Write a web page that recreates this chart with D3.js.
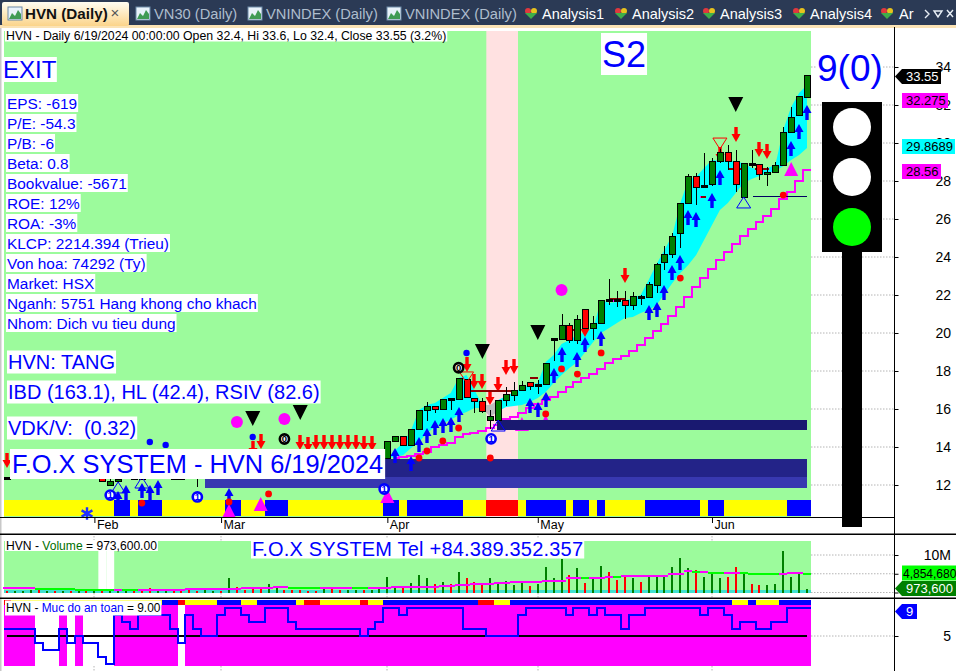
<!DOCTYPE html>
<html>
<head>
<meta charset="utf-8">
<script src="https://cdn.jsdelivr.net/npm/d3@7"></script>
<style>
html, body { margin: 0; padding: 0; background: #fff; }
svg { display: block; font-family: "Liberation Sans", Arial, sans-serif; }
text { white-space: pre; }
</style>
</head>
<body>
<div id="chart"></div>
<script>
// daily bars, 102 of them, Jan to 6/19/2024
const opens = [12.35,12.45,12.5,12.6,12.6,12.7,12.7,12.6,12.6,12.55,12.5,12.5,12.37,12.0,12.16,12.4,12.36,12.36,12.5,12.36,12.5,12.36,12.36,12.5,12.6,12.7,12.8,12.8,12.85,13.2,13.2,13.2,13.2,13.1,13.15,13.3,13.3,13.3,13.2,13.2,13.1,13.2,13.2,13.2,13.1,13.2,13.15,13.2,
  13.41,14.3,14.56,14.09,14.93,15.93,16.14,15.98,16.52,16.49,17.56,16.56,16.4,15.38,15.42,16.44,16.7,16.96,17.4,17.22,17.28,19.64,19.67,20.4,19.6,21.25,20.23,20.49,21.74,21.74,21.72,21.44,21.93,21.86,22.49,23.7,24.12,25.23,26.8,28.25,27.65,27.8,29.02,29.51,29.03,27.12,28.93,28.88,28.33,28.44,28.8,30.54,31.44,32.4]
const highs = [12.4,12.6,12.65,12.8,12.7,12.85,12.8,12.8,12.7,12.7,12.6,12.7,12.37,12.3,12.4,12.6,12.38,12.38,12.6,12.45,12.7,12.38,12.38,12.6,12.7,12.9,13,12.9,13.3,13.3,13.3,13.3,13.3,13.35,13.4,13.4,13.4,13.4,13.3,13.3,13.3,13.3,13.3,13.35,13.3,13.3,13.35,13.5,
  14.3,14.6,14.56,14.93,15.93,16.35,16.14,16.55,16.52,17.61,17.56,16.56,16.58,15.95,16.46,17.17,17.42,17.47,17.4,17.53,18.4,19.66,21,20.51,20.95,21.25,20.9,21.72,22.84,22.2,22.2,22.14,22,22.67,23.7,24.58,25.25,26.83,28.35,28.4,29.5,29.2,29.72,29.9,29.63,28.93,29.63,28.88,28.72,29,30.86,31.9,32.47,33.6]
const lows = [12.3,12.4,12.45,12.5,12.4,12.6,12.5,12.5,12.4,12.45,12.3,12.4,12.16,12.0,12.1,12.3,12.34,12.34,12.3,12.3,12.4,12.34,12.34,12.3,11.9,12.6,12.7,12.6,12.75,13,13,13,13,13,13.05,13.1,13.1,13.1,13.05,13,13,13,13,13.1,13,13,13.05,13.1,
  13.41,14.3,14.09,14.09,14.93,15.38,15.8,15.98,15.95,16.49,16.62,15.77,15.8,14.96,15.42,16.16,16.44,16.96,17,16.79,17.28,18.54,19.67,19.46,19.4,20.23,19.63,20.49,21.5,21.38,20.74,21.2,21.47,21.86,22.09,23.3,23.96,24.5,26.8,26.75,27.65,27.74,28.93,28.58,27.44,27.12,28.7,28.05,27.74,28.44,28.8,30.54,31.44,32.4]
const closes = [12.35,12.5,12.55,12.7,12.5,12.75,12.6,12.7,12.5,12.6,12.4,12.6,12.16,12.2,12.3,12.5,12.36,12.36,12.4,12.4,12.6,12.36,12.36,12.4,12.6,12.8,12.9,12.7,13.2,13.1,13.1,13.1,13.1,13.25,13.3,13.2,13.2,13.2,13.15,13.1,13.2,13.1,13.1,13.25,13.2,13.1,13.25,13.4,
  14.3,14.56,14.09,14.93,15.93,16.14,15.98,16.51,16.49,17.61,16.62,16.38,15.85,15.63,16.46,16.74,16.98,17.26,17.17,17.24,18.4,19.66,20.4,19.6,20.72,20.23,20.51,21.72,21.7,21.72,21.44,21.93,21.88,22.53,23.63,24.14,25.09,26.83,28.25,27.67,27.7,29.03,29.51,29.02,27.8,28.93,28.87,28.33,28.46,28.83,30.56,31.35,32.47,33.55]

// volume in millions
const volumes = [.3,.4,.3,.6,.6,.4,.3,.4,.3,.3,.35,.4,.7,.7,.5,.4,.5,.5,1.1,.6,.7,.5,.5,.7,.4,.6,.5,.5,3.8,1.35,.8,1.35,1.1,2.25,1.35,.8,.8,.8,.5,.5,.9,.9,.6,.6,.6,.6,.6,.9,
  4.1,1.7,1.7,2.5,4.7,3.9,2.25,2.8,2.25,5.5,3.9,2.8,2.5,3.9,2.25,3,2,2.8,1.7,2.25,6.8,3.9,9,4.7,6.6,2.5,3.9,7.1,5.5,3.3,4.7,3.9,2.8,4.1,4.1,4.6,6.8,9.3,6.6,6,4.1,5.5,3.9,4.1,6.8,5.1,2.4,2,2,2.4,11.2,4.1,4.95,.9736]
const volumeMa = [1.08,1.08,1.09,1.09,.99,.98,.97,.9,.85,.8,.75,.7,.65,.63,.66,.64,.62,.68,.72,.75,.76,.78,.8,.84,.88,.9,.94,.98,1.02,1.05,1.08,1.12,1.16,1.22,1.35,1.36,1.3,1.25,1.2,1.17,1.18,1.19,1.2,1.21,1.18,1.15,1.2,1.22,
  1.3,1.35,1.38,1.42,1.5,1.55,1.6,1.7,1.72,1.9,2.1,2.2,2.3,2.4,2.55,2.65,2.7,2.8,2.85,2.9,3.1,3.15,3.2,3.85,3.9,3.88,3.9,3.95,4.2,4.15,4.4,4.45,4.5,4.5,4.52,4.53,4.9,4.95,5.65,5.58,5.6,5.3,5.2,5.2,5.22,5.2,4.95,4.93,4.92,4.9,5,5.1,5.12,4.85]
const volumeWhiteBars = [12, 13]

// Muc do an toan
const safety = [6,6,6,6,4,3,3,6,4,5,4,4,2,1,8,7,6,8,8,8,8,6,4,8,6,5,5,8,9,9,8,7,7,9,9,9,7,6,6,6,6,6,6,6,6,5,6,7,9,9,8,9,9,9,9,9,9,9,6,6,6,5,5,5,5,8,9,9,9,9,9,8,9,9,8,9,8,8,6,8,8,9,9,9,9,9,9,9,8,9,9,8,6,7,7,6,6,7,7,9,9,9]

const mainStrip = ("yyyyyyyyyyyyyy"+"bb"+"y"+"bbb"+"yyyyyyyy"+"bb"+"yyy"+"bbb"+"yyyyyyyyyyyy"+"bb"+"y"+"bbbbbbb"+"yyy"+"rrrr"+"y"+"bbbbb"+"y"+"bb"+"y"+"b"+"yyyyy"+"bbbbbbb"+"y"+"bb"+"yyyyyyyy"+"bbb").split("")
const safetyStrip = ("r"+"yyyyyyyyyyyyyyyyyyy"+"bb"+"r"+"yyyy"+"bbb"+"yy"+"bbbbb"+"y"+"rr"+"yyyyy"+"r"+"yy"+"bbbbbbbbbbbb"+"rr"+"yy"+"bbbbbbbbbbbbbbbbbbbbbbbbbbbb"+"yy"+"b"+"yyy"+"bbbb").split("")
const stripColors = { y: "#ffff00", b: "#0000ff", r: "#ff0000" }

// cyan band, bars 48 to 101
const bandStart = 48
const bandUpper = [13.42,13.84,14.21,14.89,15.95,16.21,16.32,16.58,16.84,17.63,17.79,17,16.21,16.21,16.47,16.68,16.89,17.11,17.26,17.37,18.47,18.84,19.42,19.63,19.89,20.05,20.26,21.74,21.58,21.63,21.68,21.84,22,22.79,23.63,24.37,25.16,26.84,28.05,28.21,28.68,29.11,29.05,29.11,29,28.95,28.68,28.63,28.68,28.84,30.68,31.89,32.63,33.05]
const bandLower = [13.42,13.47,13.58,13.95,14.26,14.74,15.05,15.26,15.42,15.68,15.84,16.05,16.05,15.58,15.89,16.11,16.16,16.21,16.37,16.58,16.89,17.37,17.79,18.16,18.47,19,19.53,20,20.26,20.53,20.79,20.84,21.05,21.21,21.47,22.05,22.63,23.16,23.58,24.11,24.89,25.68,26.47,26.84,27.37,27.89,28.11,28.26,28.42,28.53,28.79,29.11,29.37,29.74]
const grayBars = [60, 61, 62]

// magenta stair line, bars 49 to 101
const stairStart = 49
const stair = [13.4,13.5,13.54,13.63,13.75,14,14.1,14.23,14.51,14.67,14.73,14.85,15,15.16,15.5,15.6,15.8,16.04,16.26,16.47,16.65,16.91,17.17,17.4,17.63,17.84,18.09,18.4,18.63,18.79,19.05,19.37,19.72,20.1,20.47,20.89,21.39,21.91,22.44,22.9,23.38,23.84,24.28,24.67,25.12,25.49,25.86,26.17,26.54,27.03,27.44,28,28.56]

// [bar, price at the tip/top of the mark]
const arrowsUp = [[101,32],[100,31],[99,30.11],[90,28.58],[89,27.37],[87,26.37],[86,26.47],[85,24.11],[84,23.58],[83,22.53],[82,21.63],[81,21.47],[75,20.11],[73,19.79],[72,19],[70,19.26],[69,18.16],[68,16.89],[67,16.37],[66,16.58],[57,16.11],[56,15.58],[55,15.53],[54,15.42],[53,15],[52,14.53],[51,13.53],[49,13.95],[19,12.26],[18,12],[17,12.11],[15,12],[14,11.68],[28,11.84]]
const arrowsDown = [[92,30.84],[95,30.05],[96,29.95],[90,29.79],[78,23.42],[73,20.58],[64,18.63],[63,18.58],[62,17.68],[61,17],[60,17.84],[59,17.84],[58,18.74],[37,14.63],[38,14.53],[39,14.63],[40,14.63],[41,14.63],[42,14.63],[43,14.63],[44,14.63],[45,14.58],[46,14.58],[32,14.68],[31,14.32],[0,13.68]]
const blackTriangles = [[92,32.42],[67,20.42],[60,19.42],[31,15.89],[37,16.21]]
const magentaTriangles = [[99,29.0],[28,11],[32,11.37],[48,11.79],[65,15.58],[68,15.68]]
const blueOutlineTriangles = [[93,27.16],[62,15.42],[14,12.16],[17,12.42]]
const redOutlineTriangles = [[90,30.26],[58,17.95]]
const redDots = [[98,27.26],[85,22.89],[75,18.95],[72,17.84],[70,18.11],[68,15.74],[61,13.42],[57,15],[55,14.32],[53,13.79],[52,13.42],[33,11.53],[28,11.11],[17,11.05]]
const blueDots = [[58,18.95],[31,14.53],[20,14.11],[18,14.26]]
const magentaDots = [[70,22.26],[29,15.32],[35,15.47]]
const blueOnes = [[61.1,14.43],[13,11.47],[24,11.37],[47.6,11.79]]
const blackZeros = [[57,18.17],[35,14.42]]
// [first bar, last bar, price]
const darkRedLines = [[58.2,64,16.95],[66,67,17.63],[76,78,21.79],[71.2,72,20.16],[87.6,88.2,27.16],[91,93,28.63],[94.4,96.2,28.63]]
const navyLines = [[94.2,101,27.16]]
const magentaLines = [[87.5,88.2,27.16],[76,77.5,21.7]]
// [first bar, last bar, top price, bottom price, colour]
const levelBars = [[61.85,101,15.42,14.89,"#191970"],[25,101,13.37,12.42,"#232388"],[25,101,12.42,11.84,"#3838b0"]]

const priceTicks = d3.range(12, 35, 2)
const monthTicks = [[11,"Feb"],[27,"Mar"],[48,"Apr"],[67,"May"],[89,"Jun"]]
const fundamentals = ["EPS: -619","P/E: -54.3","P/B: -6","Beta: 0.8","Bookvalue: -5671","ROE: 12%","ROA: -3%","KLCP: 2214.394 (Trieu)","Von hoa: 74292 (Ty)","Market: HSX","Nganh: 5751 Hang khong cho khach","Nhom: Dich vu tieu dung"]
const tabNames = [["HVN (Daily)",25,6],["VN30 (Daily)",154,136],["VNINDEX (Daily)",266,248],["VNINDEX (Daily)",405,387]]
const analysisTabs = [["Analysis1",542,525],["Analysis2",632,615],["Analysis3",720,703],["Analysis4",810,793],["Ar",899,881]]

const W = 956, H = 671
const svg = d3.select("#chart").append("svg").attr("width", W).attr("height", H).attr("viewBox", [0, 0, W, H].join(" "))

const x = d3.scaleLinear().domain([0, 101]).range([7.3, 807])
const y = d3.scaleLinear().domain([34, 12]).range([67, 485])
const yVol = d3.scaleLinear().domain([0, 10]).range([592.5, 555])
const ySafe = d3.scaleLinear().domain([5, 9]).range([636, 607.7])
const barW = x(1) - x(0)
const px = i => Math.round(x(i))

const defs = svg.append("defs")
const tabGrad = defs.append("linearGradient").attr("id", "tabGrad").attr("x1", 0).attr("x2", 0).attr("y1", 0).attr("y2", 1)
tabGrad.append("stop").attr("offset", "0").attr("stop-color", "#fffdf2")
tabGrad.append("stop").attr("offset", "1").attr("stop-color", "#fbd48a")

// tab strip
svg.append("rect").attr("width", W).attr("height", 26).attr("fill", "#2b3a55")
svg.append("rect").attr("y", 25).attr("width", W).attr("height", 3).attr("fill", "#fbe3b5")
svg.append("rect").attr("x", 2).attr("y", 2).attr("width", 127).attr("height", 24).attr("rx", 2).attr("fill", "url(#tabGrad)")
tabNames.forEach(([name, tx, ix], k) => {
  const icon = svg.append("g").attr("transform", `translate(${ix + (k ? 0 : 2)},7)`)
  icon.append("rect").attr("width", 14).attr("height", 13).attr("fill", "#e8f2fa").attr("stroke", "#6d8aa8")
  icon.append("path").attr("d", "M1,12 L4,6 L7,9 L10,3 L13,7 L13,12 Z").attr("fill", "#3f9b55")
  svg.append("text").attr("x", tx).attr("y", 19).attr("font-size", k ? 14.7 : 15.2)
    .attr("font-weight", k ? null : "bold").attr("fill", k ? "#aebdcd" : "#111").text(name)
})
svg.append("text").attr("x", 115).attr("y", 18).attr("font-size", 15).attr("fill", "#555").attr("text-anchor", "middle").text("×")
analysisTabs.forEach(([name, tx, ix]) => {
  const icon = svg.append("g").attr("transform", `translate(${ix},8)`)
  icon.append("circle").attr("cx", 3).attr("cy", 3).attr("r", 3).attr("fill", "#e0393e")
  icon.append("circle").attr("cx", 9).attr("cy", 3).attr("r", 3).attr("fill", "#e8c21d")
  icon.append("path").attr("d", "M0,5 L12,5 L6,11 Z").attr("fill", "#3fae49")
  svg.append("text").attr("x", tx).attr("y", 19).attr("font-size", 14.5).attr("fill", "#fff").text(name)
})
svg.append("path").attr("d", "M925,10 l4,4 l-4,4 M934,11 l8,0 l-4,6 Z M947,10 l6,7 M953,10 l-6,7").attr("fill", "none").attr("stroke", "#e8eef5").attr("stroke-width", 1.4)

// panel backgrounds
const plot = svg.append("g")
plot.append("rect").attr("x", 0).attr("y", 28).attr("width", W).attr("height", H - 28).attr("fill", "#fff")
plot.append("rect").attr("x", 0).attr("y", 28).attr("width", 1.5).attr("height", H - 28).attr("fill", "#c8c8c8")
plot.append("rect").attr("x", 4).attr("y", 31).attr("width", 807).attr("height", 486).attr("fill", "#9cfb9c")
plot.append("rect").attr("x", x(61) - barW / 2).attr("y", 31).attr("width", barW * 4).attr("height", 486).attr("fill", "#ffe1e1")

plot.append("g").attr("shape-rendering", "crispEdges").selectAll("rect").data(mainStrip).join("rect")
  .attr("x", (d, i) => i ? x(i) - barW / 2 : 4).attr("y", 500)
  .attr("width", (d, i) => i ? barW + .5 : x(0) + barW / 2 - 4).attr("height", 16)
  .attr("fill", d => stripColors[d])

// price level bars
plot.append("g").attr("shape-rendering", "crispEdges").selectAll("rect").data(levelBars.slice(1)).join("rect")
  .attr("x", d => x(d[0])).attr("y", d => y(d[2])).attr("width", d => x(d[1]) - x(d[0])).attr("height", d => y(d[3]) - y(d[2])).attr("fill", d => d[4])

// cyan band
const bandArea = d3.area().x(d => x(d.i)).y0(d => y(d.lo)).y1(d => y(d.hi))
const bandRows = bandUpper.map((hi, k) => ({ i: k + bandStart, hi, lo: bandLower[k] }))
plot.append("path").attr("fill", "#00ffff").attr("d", bandArea.defined(d => d.i <= grayBars[0] || d.i >= grayBars[2])(bandRows))
plot.append("path").attr("fill", "#bdbdbd").attr("d", bandArea.defined(d => grayBars.includes(d.i))(bandRows))

// magenta stair
const stairLine = d3.line().x(d => x(d[0])).y(d => y(d[1])).curve(d3.curveStep)
plot.append("path").attr("fill", "none").attr("stroke", "#ff00ff").attr("stroke-width", 2)
  .attr("shape-rendering", "crispEdges")
  .attr("d", stairLine(stair.map((v, k) => [k + stairStart, v]).concat([[101.55, 28.56]])))

const triangle = (cx, top, w, h, down) => down
  ? `M${cx - w / 2},${top} L${cx + w / 2},${top} L${cx},${top + h} Z`
  : `M${cx},${top} L${cx + w / 2},${top + h} L${cx - w / 2},${top + h} Z`

// magenta triangles under the level bars
plot.append("g").selectAll("path").data(magentaTriangles.slice(4)).join("path")
  .attr("d", d => triangle(x(d[0]), y(d[1]), 14, 14)).attr("fill", "#ff00ff")
levelBars.slice(0, 1).forEach(d => {
  plot.append("rect").attr("x", x(d[0])).attr("y", y(d[2])).attr("width", x(d[1]) - x(d[0])).attr("height", y(d[3]) - y(d[2])).attr("fill", d[4]).attr("shape-rendering", "crispEdges")
})

// signal arrows
const upArrow = (cx, t) => `M${cx},${t} L${cx + 4.5},${t + 8} L${cx + 1.7},${t + 8} L${cx + 1.7},${t + 15} L${cx - 1.7},${t + 15} L${cx - 1.7},${t + 8} L${cx - 4.5},${t + 8} Z`
const downArrow = (cx, t) => `M${cx - 1.7},${t} L${cx + 1.7},${t} L${cx + 1.7},${t + 7} L${cx + 4.5},${t + 7} L${cx},${t + 15} L${cx - 4.5},${t + 7} L${cx - 1.7},${t + 7} Z`
plot.append("g").selectAll("path").data(arrowsUp).join("path").attr("d", d => upArrow(px(d[0]), y(d[1]))).attr("fill", "#0000ff")
plot.append("g").selectAll("path").data(arrowsDown).join("path").attr("d", d => downArrow(px(d[0]), y(d[1]))).attr("fill", "#ff0000")

// horizontal markers
const segs = (rows, color, width) => plot.append("g").attr("shape-rendering", "crispEdges").selectAll("line").data(rows).join("line")
  .attr("x1", d => x(d[0])).attr("x2", d => x(d[1])).attr("y1", d => y(d[2])).attr("y2", d => y(d[2]))
  .attr("stroke", color).attr("stroke-width", width)
segs(magentaLines, "#ff00ff", 2)
segs(darkRedLines, "#8b0000", 2)
segs(navyLines, "#000060", 1)

// candles
const isDoji = i => Math.abs(opens[i] - closes[i]) <= .07
const candles = plot.append("g").attr("shape-rendering", "crispEdges")
candles.selectAll("line.wick").data(opens).join("line").attr("class", "wick")
  .attr("x1", (d, i) => px(i)).attr("x2", (d, i) => px(i))
  .attr("y1", (d, i) => y(highs[i])).attr("y2", (d, i) => y(lows[i]))
  .attr("stroke", "#000")
candles.selectAll("rect.body").data(opens).join("rect").attr("class", "body")
  .attr("x", (d, i) => px(i) - 3).attr("width", 6)
  .attr("y", (d, i) => isDoji(i) ? y(closes[i]) - 1 : y(Math.max(opens[i], closes[i])))
  .attr("height", (d, i) => isDoji(i) ? 2 : Math.abs(y(opens[i]) - y(closes[i])))
  .attr("fill", (d, i) => isDoji(i) ? "#000" : closes[i] > opens[i] ? "#008000" : "#ff0000")
  .attr("stroke", "#000")

// other signal marks
plot.append("g").selectAll("path").data(blackTriangles).join("path").attr("d", d => triangle(x(d[0]), y(d[1]), 15, 15, true)).attr("fill", "#000")
plot.append("g").selectAll("path").data(magentaTriangles.slice(0, 4)).join("path").attr("d", d => triangle(x(d[0]), y(d[1]), 14, 14)).attr("fill", "#ff00ff")
plot.append("g").selectAll("path").data(blueOutlineTriangles).join("path").attr("d", d => triangle(x(d[0]), y(d[1]), 14, 11)).attr("fill", "none").attr("stroke", "#0000ff")
plot.append("g").selectAll("path").data(redOutlineTriangles).join("path").attr("d", d => triangle(x(d[0]), y(d[1]), 14, 11, true)).attr("fill", "none").attr("stroke", "#ff0000")
plot.append("g").selectAll("circle").data(redDots).join("circle").attr("cx", d => x(d[0])).attr("cy", d => y(d[1])).attr("r", 3.4).attr("fill", "#ff0000")
plot.append("g").selectAll("circle").data(blueDots).join("circle").attr("cx", d => x(d[0])).attr("cy", d => y(d[1])).attr("r", 3.2).attr("fill", "#0000ff")
plot.append("g").selectAll("circle").data(magentaDots).join("circle").attr("cx", d => x(d[0])).attr("cy", d => y(d[1])).attr("r", 6).attr("fill", "#ff00ff")
const badge = (rows, text, color) => rows.forEach(d => {
  plot.append("circle").attr("cx", x(d[0])).attr("cy", y(d[1])).attr("r", 4.6).attr("fill", "#fff").attr("stroke", color).attr("stroke-width", 2.6)
  plot.append("text").attr("x", x(d[0])).attr("y", y(d[1]) + 3.4).attr("text-anchor", "middle").attr("font-size", 9.5).attr("font-weight", "bold").attr("fill", color).text(text)
})
badge(blueOnes, "1", "#0000ff")
badge(blackZeros, "0", "#000")
plot.append("path").attr("transform", "translate(87,513.5)").attr("d", d3.symbol(d3.symbolAsterisk, 110)())
  .attr("fill", "none").attr("stroke", "#2030ff").attr("stroke-width", 2.4)

// volume panel
plot.append("rect").attr("x", 4).attr("y", 541).attr("width", 807).attr("height", 50).attr("fill", "#9cfb9c")
plot.append("g").selectAll("rect").data(volumeWhiteBars).join("rect").attr("x", d => x(d) - barW / 2).attr("y", 541).attr("width", barW).attr("height", 48).attr("fill", "#fff")
plot.append("rect").attr("x", 4).attr("y", 590).attr("width", 807).attr("height", 3).attr("fill", "#40e0d0")
plot.append("g").attr("shape-rendering", "crispEdges").selectAll("line").data(volumes).join("line")
  .attr("x1", (d, i) => px(i)).attr("x2", (d, i) => px(i)).attr("y1", yVol(0)).attr("y2", d => yVol(d))
  .attr("stroke-width", 2).attr("stroke", (d, i) => closes[i] > opens[i] ? "#008000" : "#ff0000")
plot.append("g").attr("shape-rendering", "crispEdges").selectAll("line").data(volumeMa).join("line")
  .attr("x1", (d, i) => x(i) - barW / 2).attr("x2", (d, i) => x(i) + barW / 2)
  .attr("y1", d => yVol(d)).attr("y2", d => yVol(d)).attr("stroke-width", 2)
  .attr("stroke", (d, i) => i && d < volumeMa[i - 1] ? "#00ff00" : "#ff00ff")

// safety panel
plot.append("g").attr("shape-rendering", "crispEdges").selectAll("rect").data(safety).join("rect")
  .attr("x", (d, i) => i ? x(i) - barW / 2 : 4).attr("y", 605)
  .attr("width", (d, i) => i ? barW + .5 : x(0) + barW / 2 - 4).attr("height", 61)
  .attr("fill", d => d >= 5 ? "#ff00ff" : "#fff")
plot.append("g").attr("shape-rendering", "crispEdges").selectAll("rect").data(safetyStrip).join("rect")
  .attr("x", (d, i) => i ? x(i) - barW / 2 : 4).attr("y", 600)
  .attr("width", (d, i) => i ? barW + .5 : x(0) + barW / 2 - 4).attr("height", 5)
  .attr("fill", d => stripColors[d])
plot.append("line").attr("x1", x(0)).attr("x2", x(101)).attr("y1", ySafe(5)).attr("y2", ySafe(5)).attr("stroke", "#000").attr("stroke-width", 2).attr("shape-rendering", "crispEdges")
const safetyPoints = safety.map((v, i) => [i, v])
safetyPoints.unshift([-0.4, safety[0]])
safetyPoints.push([101.5, safety[101]])
plot.append("path").attr("fill", "none").attr("stroke", "#0000ff").attr("stroke-width", 2).attr("shape-rendering", "crispEdges")
  .attr("d", d3.line().x(d => x(d[0])).y(d => ySafe(d[1])).curve(d3.curveStep)(safetyPoints))

// separators and dotted grid
const dotted = (x1, x2, y1, y2) => plot.append("line").attr("x1", x1).attr("x2", x2).attr("y1", y1).attr("y2", y2)
  .attr("stroke", "#b4b4b4").attr("stroke-dasharray", "1.5,1.5")
priceTicks.forEach(t => dotted(811, 894, y(t), y(t)))
dotted(811, 894, yVol(10), yVol(10)); dotted(811, 894, yVol(5), yVol(5)); dotted(811, 894, yVol(0), yVol(0)); dotted(811, 894, ySafe(5), ySafe(5))
monthTicks.forEach(([i]) => {
  dotted(px(i), px(i), 536, 541); dotted(px(i), px(i), 593, 598); dotted(px(i), px(i), 666, 671)
})
plot.append("line").attr("x1", 0).attr("x2", 894).attr("y1", 517.5).attr("y2", 517.5).attr("stroke", "#000")
plot.append("rect").attr("x", 0).attr("y", 533.5).attr("width", W).attr("height", 1.5).attr("fill", "#000")
plot.append("rect").attr("x", 0).attr("y", 597.5).attr("width", W).attr("height", 1.5).attr("fill", "#000")

// axes
const axisX = 894.5
const styleAxis = g => {
  g.select(".domain").remove()
  g.selectAll(".tick line").attr("stroke", "#000")
  g.selectAll(".tick text").attr("fill", "#000").attr("font-family", "Liberation Sans").attr("font-size", 14)
    .attr("text-anchor", "end").attr("x", 951 - axisX)
}
svg.append("g").attr("transform", `translate(${axisX},0)`)
  .call(d3.axisRight(y).tickValues(priceTicks).tickSize(4).tickFormat(d3.format("d"))).call(styleAxis)
svg.append("g").attr("transform", `translate(${axisX},0)`)
  .call(d3.axisRight(yVol).tickValues([0, 5, 10]).tickSize(4).tickFormat(d => d === 10 ? "10M" : "")).call(styleAxis)
svg.append("g").attr("transform", `translate(${axisX},0)`)
  .call(d3.axisRight(ySafe).tickValues([5]).tickSize(4).tickFormat(d3.format("d"))).call(styleAxis)
svg.append("line").attr("x1", axisX).attr("x2", axisX).attr("y1", 27).attr("y2", H).attr("stroke", "#000")

const axisB = svg.append("g").attr("transform", "translate(0,517)")
  .call(d3.axisBottom(x).tickValues(monthTicks.map(d => d[0])).tickSize(6)
    .tickFormat(d => monthTicks.find(m => m[0] === d)[1]))
axisB.select(".domain").remove()
axisB.selectAll(".tick line").attr("stroke", "#000")
axisB.selectAll(".tick text").attr("text-anchor", "start").attr("x", 2).attr("y", 3).attr("font-family", "Liberation Sans").attr("font-size", 12.5).attr("fill", "#000")

// white-backed labels, txt is a string or a list of [text, colour] parts
const label = (txt, lx, cy, size, color, opts = {}) => {
  const g = svg.append("g")
  const t = g.append("text").attr("x", lx).attr("y", cy + size * .36).attr("font-size", size).attr("fill", color)
    .attr("letter-spacing", opts.spacing || null)
  if (typeof txt === "string") t.text(txt)
  else txt.forEach(([part, c]) => t.append("tspan").attr("fill", c).text(part))
  const w = t.node().getComputedTextLength()
  const pad = opts.pad === undefined ? 1 : opts.pad
  const h = opts.h || size * 1.15
  g.insert("rect", "text").attr("x", lx - pad).attr("y", cy - h / 2).attr("width", w + pad * 2).attr("height", h).attr("fill", opts.bg || "#fff")
}
label("HVN - Daily 6/19/2024 00:00:00 Open 32.4, Hi 33.6, Lo 32.4, Close 33.55 (3.2%)", 6, 35.5, 12.3, "#000", { h: 12 })
label("EXIT", 3, 69.5, 24, "#0000ff", { h: 25, pad: 0.5 })
label("S2", 602, 54, 36, "#0000ff", { h: 42, pad: 1 })
fundamentals.forEach((f, k) => label(f, 7, 103 + k * 20, 15.4, "#0000ff", { h: 18 }))
label("HVN: TANG", 8, 362, 20, "#0000ff", { h: 23 })
label("IBD (163.1), HL (42.4), RSIV (82.6)", 8, 392, 20, "#0000ff", { h: 23 })
label("VDK/V:  (0.32)", 8, 428, 20, "#0000ff", { h: 23 })
label("F.O.X SYSTEM - HVN 6/19/2024", 12, 464, 25.4, "#0000ff", { h: 30, pad: 2 })
label([["HVN - ", "#000"], ["Volume", "#007000"], [" = 973,600.00", "#000"]], 6, 545.5, 12.1, "#000", { h: 11 })
label("F.O.X SYSTEM Tel +84.389.352.357", 252, 548.5, 20, "#0000ff", { h: 20, pad: 1, spacing: "0.2px" })
label([["HVN - ", "#000"], ["Muc do an toan", "#0000ff"], [" = 9.00", "#000"]], 6, 608, 11.9, "#000", { h: 15 })
label("9(0)", 817, 68, 37, "#0000ff", { h: 36, pad: 0 })

// traffic light
const light = svg.append("g")
light.append("rect").attr("x", 842).attr("y", 250).attr("width", 20).attr("height", 277).attr("fill", "#000")
light.append("rect").attr("x", 822).attr("y", 102).attr("width", 60).attr("height", 150).attr("fill", "#000")
const lamps = [["#fff", 127], ["#fff", 177], ["#00ff00", 227]]
lamps.forEach(([c, cy]) => light.append("circle").attr("cx", 852).attr("cy", cy).attr("r", 19).attr("fill", c))

// value tags on the axis
const tag = (txt, tx, tw, cy, bg, fg, arrow, size = 13, inset = 4) => {
  const h = 15
  const g = svg.append("g")
  g.append("path").attr("fill", bg).attr("d", arrow
    ? `M895,${cy} L${tx},${cy - h / 2} L${tx + tw},${cy - h / 2} L${tx + tw},${cy + h / 2} L${tx},${cy + h / 2} Z`
    : `M${tx},${cy - h / 2} L${tx + tw},${cy - h / 2} L${tx + tw},${cy + h / 2} L${tx},${cy + h / 2} Z`)
  g.append("text").attr("x", tx + inset).attr("y", cy + 4.6).attr("font-size", size).attr("fill", fg).text(txt)
}
tag("33.55", 902, 39, 76.5, "#000", "#fff", true)
tag("32.275", 902, 46, 100.5, "#ff00ff", "#000")
tag("29.8689", 902, 53, 146.5, "#00ffff", "#000")
tag("28.56", 902, 39, 171.5, "#ff00ff", "#000")
tag("4,854,680", 902, 54, 573, "#00ff00", "#000", false, 12, 1)
tag("973,600", 902, 54, 588.5, "#008000", "#fff", true)
tag("9", 902, 15, 611.5, "#0000ff", "#fff", true)
</script>
</body>
</html>
